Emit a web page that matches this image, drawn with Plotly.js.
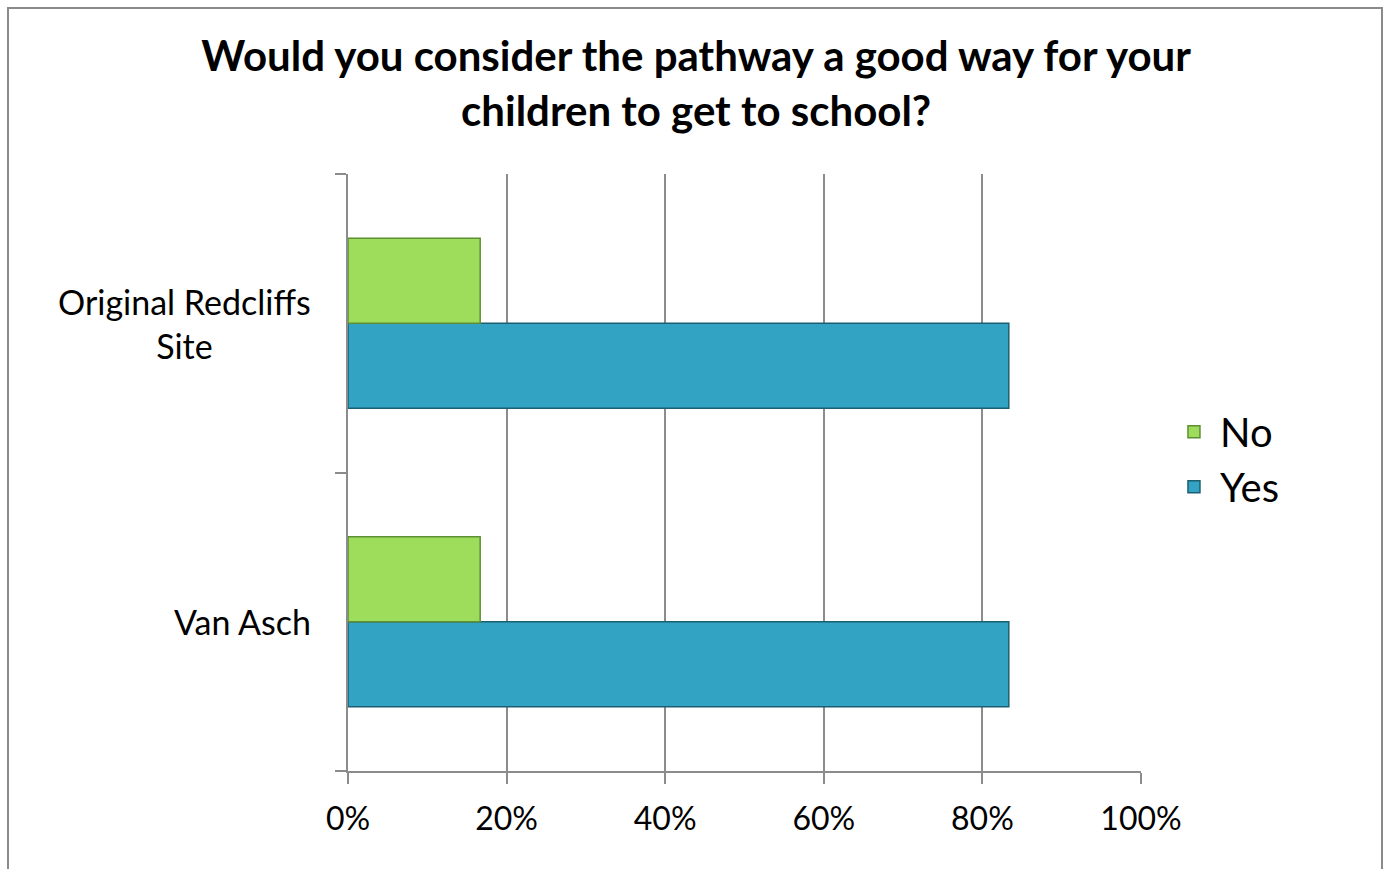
<!DOCTYPE html>
<html>
<head>
<meta charset="utf-8">
<script src="https://cdn.plot.ly/plotly-3.0.1.min.js"></script>
<style>
  html, body { margin: 0; padding: 0; background: #fff; }
  #chart { width: 1390px; height: 869px; }
  #frame { position: absolute; left: 7px; top: 7px; width: 1376px; height: 880px;
           border: 2px solid #8a8a8a; box-sizing: border-box; pointer-events: none; }
</style>
</head>
<body>
<div id="chart"></div>
<div id="frame"></div>
<script>
// Data
const categories = ['Original Redcliffs Site', 'Van Asch'];
const categoryLabels = ['Original Redcliffs<br>Site', 'Van Asch'];
const seriesNames = ['No', 'Yes'];
const noValues = [0.1667, 0.1667];
const yesValues = [0.8333, 0.8333];
const xTickValues = [0, 0.2, 0.4, 0.6, 0.8, 1.0];
const xTickLabels = ['0%', '20%', '40%', '60%', '80%', '100%'];
const titleText = 'Would you consider the pathway a good way for your<br>children to get to school?';

const FONT = 'Lato, Carlito, Calibri, sans-serif';

const traces = [
  {
    type: 'bar', orientation: 'h', name: seriesNames[1],
    x: yesValues, y: categories,
    marker: { color: '#33a3c3', line: { color: '#1d5f72', width: 1.5 } },
    hoverinfo: 'x+y+name'
  },
  {
    type: 'bar', orientation: 'h', name: seriesNames[0],
    x: noValues, y: categories,
    marker: { color: '#9ddd5b', line: { color: '#5f8f33', width: 1.5 } },
    hoverinfo: 'x+y+name'
  }
];

const layout = {
  width: 1390, height: 869,
  margin: { l: 348, r: 249, t: 174, b: 98 },
  paper_bgcolor: '#ffffff', plot_bgcolor: '#ffffff',
  font: { family: FONT, color: '#000000' },
  title: {
    text: titleText,
    font: { family: FONT, size: 42, color: '#000000', weight: 'bold' },
    x: 0.5008, xanchor: 'center', y: 0.918, yanchor: 'top'
  },
  barmode: 'group',
  bargap: 0.43, bargroupgap: 0,
  showlegend: true,
  legend: {
    x: 1.034, xanchor: 'left', y: 0.522, yanchor: 'middle',
    traceorder: 'reversed', itemwidth: 42,
    font: { family: FONT, size: 40, color: '#000' },
    bgcolor: 'rgba(0,0,0,0)'
  },
  xaxis: {
    range: [0, 1],
    tickvals: xTickValues, ticktext: xTickLabels,
    tickfont: { family: FONT, size: 32, color: '#000' },
    showgrid: true, gridcolor: '#8c8c8c', gridwidth: 1.5,
    zeroline: false,
    showline: true, linecolor: '#8c8c8c', linewidth: 2,
    ticks: 'outside', ticklen: 11, tickcolor: '#8c8c8c', tickwidth: 2,
    ticklabelstandoff: 8,
    fixedrange: true
  },
  yaxis: {
    type: 'category',
    categoryorder: 'array', categoryarray: categories.slice().reverse(),
    showticklabels: false,
    showline: true, linecolor: '#8c8c8c', linewidth: 2,
    ticks: 'outside', tickson: 'boundaries', ticklen: 11, tickcolor: '#8c8c8c', tickwidth: 2,
    showgrid: false, zeroline: false,
    fixedrange: true
  },
  annotations: categories.map((c, i) => ({
    xref: 'paper', yref: 'y', x: -0.044, y: c,
    xanchor: 'right', yanchor: 'middle', align: 'center',
    text: categoryLabels[i], showarrow: false,
    font: { family: FONT, size: 34, color: '#000' }
  }))
};

Plotly.newPlot('chart', traces, layout, { displayModeBar: false, staticPlot: false });
</script>
</body>
</html>
